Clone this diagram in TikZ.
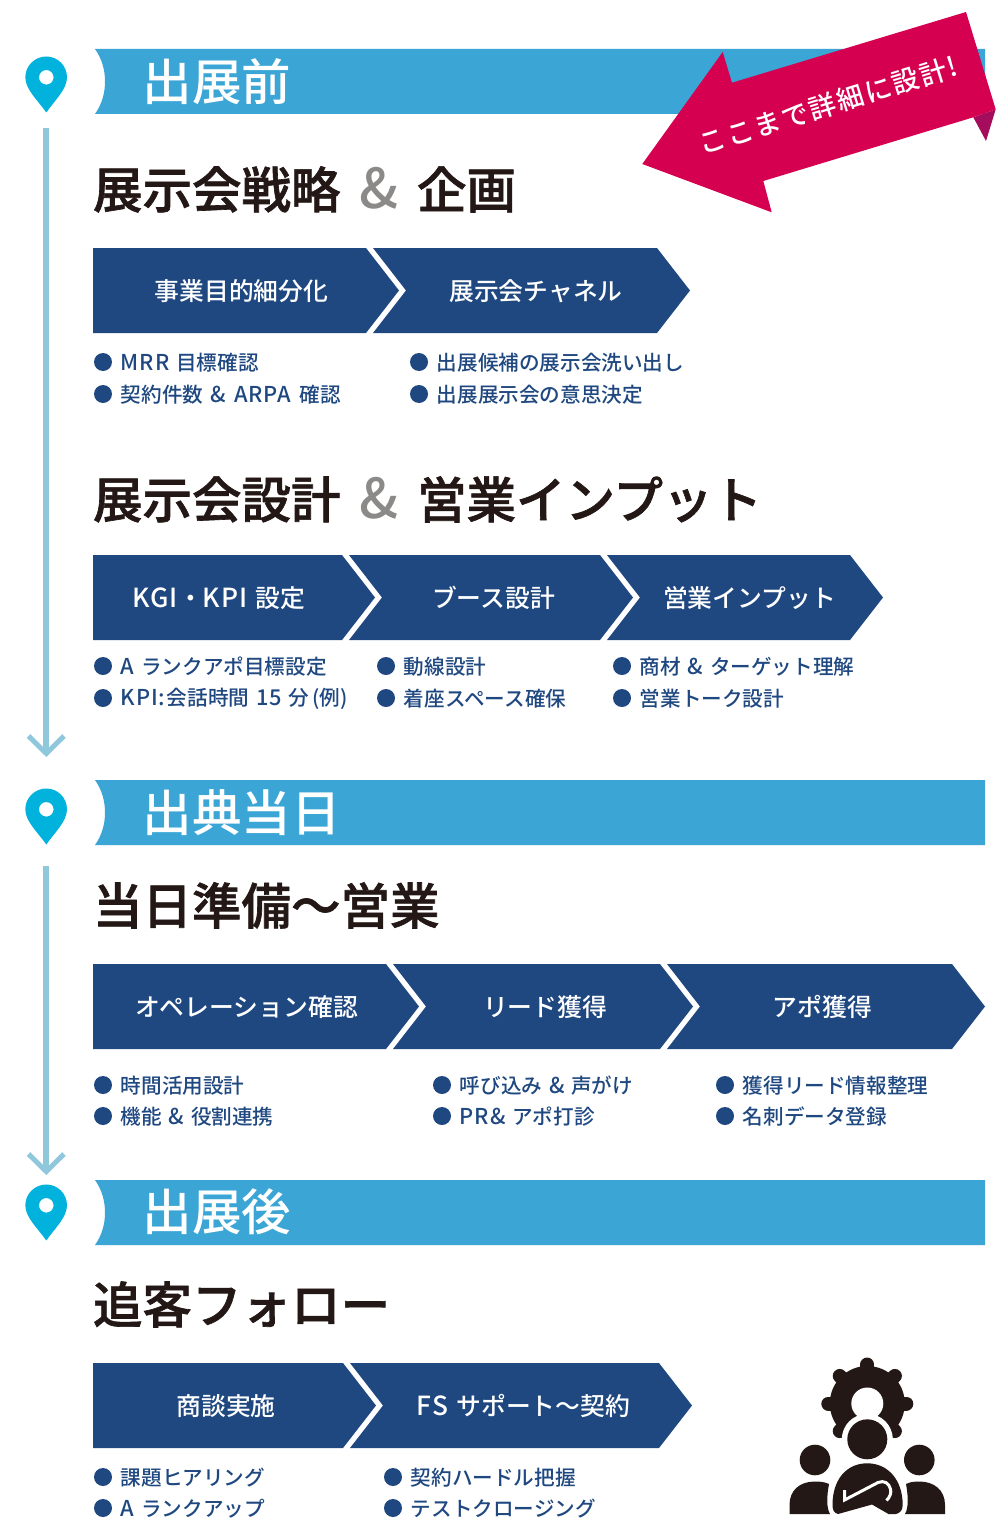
\documentclass[tikz,border=0pt]{standalone}
\usepackage{fontspec}
\setmainfont{Noto Sans CJK JP Medium}
\newfontfamily\headfont[FakeBold=1.3]{Noto Sans CJK JP Medium}
\newfontfamily\latf[LetterSpace=4,Scale=1.06]{Noto Sans CJK JP Medium}
\newfontfamily\ribfont[LetterSpace=7]{Noto Sans CJK JP Medium}
\definecolor{bandblue}{HTML}{3BA6D5}
\definecolor{navy}{HTML}{1F4880}
\definecolor{pinblue}{HTML}{00B2DC}
\definecolor{linkblue}{HTML}{8FC7DC}
\definecolor{pink}{HTML}{D5004F}
\definecolor{fold}{HTML}{A50D5C}
\definecolor{ink}{HTML}{231815}
\definecolor{grayamp}{HTML}{8C8A88}
\newcommand{\fs}[1]{\fontsize{#1pt}{#1pt}\selectfont}
\newcommand{\lat}[1]{{\latf #1}}
\newcommand{\gp}{\hspace{0.33em}}
\tikzset{
  x=1pt,y=-1pt,
  bandtitle/.style={anchor=west,text=white,font=\fs{49.5}},
  heading/.style={anchor=west,text=ink,font=\fs{49.5}\headfont},
  ampmark/.style={text=grayamp,font=\fs{55}},
  chevtext/.style={text=white,font=\fs{24.8}},
  bullettext/.style={anchor=west,text=navy,font=\fs{20.6}},
  dotmark/.style={circle,fill=navy,inner sep=0pt,minimum size=18pt},
  chev/.style={fill=navy},
  link/.style={draw=linkblue,line width=6pt},
  linkhead/.style={draw=linkblue,line width=5pt},
}
\newcommand{\band}[1]{%
  \fill[bandblue] (95,#1) .. controls (102,{#1+10}) and (105,{#1+21}) .. (105,{#1+32.5}) .. controls (105,{#1+44}) and (102,{#1+55}) .. (95,{#1+65}) -- (985,{#1+65}) -- (985,#1) -- cycle;}
\newcommand{\pin}[2]{% name, top y
  \fill[pinblue,even odd rule] (46.3,{#2+56}) .. controls (38,{#2+44}) and (25.3,{#2+33}) .. (25.3,{#2+20.8})
    .. controls (25.3,{#2+9.3}) and (34.8,#2) .. (46.3,#2)
    .. controls (57.8,#2) and (67,{#2+9.3}) .. (67,{#2+20.8})
    .. controls (67,{#2+33}) and (54.6,{#2+44}) .. (46.3,{#2+56}) -- cycle
    (46.3,{#2+20.8}) circle[radius=7.3];
  \coordinate (#1) at (46.3,{#2+28});}
% name, ytop, xleft, xshoulder, xcentre, text
\newcommand{\chv}[6]{%
  \fill[chev] (#3,#2) -- (#4,#2) -- ({#4+33},{#2+42.5}) -- (#4,{#2+85}) -- (#3,{#2+85}) -- ({#3+33},{#2+42.5}) -- cycle;
  \node[chevtext] (#1) at (#5,{#2+42.9}) {#6};}
\newcommand{\chvf}[6]{%
  \fill[chev] (#3,#2) -- (#4,#2) -- ({#4+33},{#2+42.5}) -- (#4,{#2+85}) -- (#3,{#2+85}) -- cycle;
  \node[chevtext] (#1) at (#5,{#2+42.9}) {#6};}
\newcommand{\bul}[4]{% name, x, y, text
  \node[dotmark] (#1d) at (#2,#3) {};
  \node[bullettext] (#1) at ({#2+14.4},{#3+0.4}) {#4};}
\begin{document}
\begin{tikzpicture}
\useasboundingbox (0,0) rectangle (1000,1525);
% bands
\band{49}
\band{780}
\band{1180}
\node[bandtitle] (t1) at (139,82) {出展前};
\node[bandtitle] (t2) at (139,813) {出典当日};
\node[bandtitle] (t3) at (139,1212) {出展後};
% pins and links
\pin{p1}{56.5}
\pin{p2}{788.5}
\pin{p3}{1184.5}
\coordinate (a1s) at (46.3,128);
\coordinate (a1e) at (46.3,753);
\coordinate (a2s) at (46.3,866);
\coordinate (a2e) at (46.3,1172);
\draw[link] (a1s) -- (a1e);
\draw[link] (a2s) -- (a2e);
\draw[linkhead] (28.5,736) -- (46.3,753.5) -- (64,736);
\draw[linkhead] (28.5,1154) -- (46.3,1171.5) -- (64,1154);
% ribbon
\fill[fold] (973.3,117.3) -- (995.7,109.3) -- (986,141) -- cycle;
\fill[pink] (966,12) -- (995.7,109.3) -- (973.3,117.3) -- (763.3,181) -- (771.7,212.3) -- (642.3,164) -- (722.7,52) -- (732,82.7) -- cycle;
\node[text=white,rotate=17.2,font=\fs{27}\ribfont] (r1) at (828,105) {ここまで詳細に設計!};
% headings
\node[heading] (h1) at (89.5,189.4) {展示会戦略};
\node[ampmark] (h1a) at (379,188) {\&};
\node[heading] (h1b) at (413.5,189.4) {企画};
\node[heading] (h2) at (89.5,499.4) {展示会設計};
\node[ampmark] (h2a) at (379,498) {\&};
\node[heading] (h2b) at (413.5,499.4) {営業インプット};
\node[heading] (h3) at (89.5,905.4) {当日準備〜営業};
\node[heading] (h4) at (89.5,1304.4) {追客フォロー};
% row 1
\chvf{c11}{248}{93}{366}{241.5}{事業目的細分化}
\chv{c12}{248}{373}{657}{536}{展示会チャネル}
\bul{b11}{103}{362}{\lat{MRR}\gp 目標確認}
\bul{b12}{103}{394}{契約件数\gp\lat{\&}\hspace{0.42em}\lat{ARPA}\hspace{0.42em}確認}
\bul{b13}{419}{362}{出展候補の展示会洗い出し}
\bul{b14}{419}{394}{出展展示会の意思決定}
% row 2
\chvf{c21}{555}{93}{342}{219}{\lat{KGI}・\lat{KPI}\gp 設定}
\chv{c22}{555}{349}{600}{493.5}{ブース設計}
\chv{c23}{555}{607}{850}{749.5}{営業インプット}
\bul{b21}{103}{666}{\lat{A}\gp ランクアポ目標設定}
\bul{b22}{103}{698}{\lat{KPI:}\hspace{1.5pt}会話時間\gp\lat{15}\gp 分\hspace{3pt}(例)}
\bul{b23}{386}{666}{動線設計}
\bul{b24}{386}{698}{着座スペース確保}
\bul{b25}{622}{666}{商材\gp\lat{\&}\gp ターゲット理解}
\bul{b26}{622}{698}{営業トーク設計}
% row 3
\chvf{c31}{964}{93}{386}{246.5}{オペレーション確認}
\chv{c32}{964}{393}{660}{545}{リード獲得}
\chv{c33}{964}{667}{952}{822.5}{アポ獲得}
\bul{b31}{103}{1085}{時間活用設計}
\bul{b32}{103}{1116}{機能\gp\lat{\&}\gp 役割連携}
\bul{b33}{442}{1085}{呼び込み\gp\lat{\&}\gp 声がけ}
\bul{b34}{442}{1116}{\lat{PR\&}\gp アポ打診}
\bul{b35}{725}{1085}{獲得リード情報整理}
\bul{b36}{725}{1116}{名刺データ登録}
% row 4
\chvf{c41}{1363}{93}{343}{226}{商談実施}
\chv{c42}{1363}{350}{659}{523.5}{\lat{FS}\gp サポート〜契約}
\bul{b41}{103}{1477}{課題ヒアリング}
\bul{b42}{103}{1508}{\lat{A}\gp ランクアップ}
\bul{b43}{393}{1477}{契約ハードル把握}
\bul{b44}{393}{1508}{テストクロージング}
% icon
\begin{scope}
\foreach \a in {0,45,...,315}{
  \draw[ink,line width=14pt,line cap=round] ({867.3+30*cos(\a)},{1403.5-30*sin(\a)}) -- ({867.3+39*cos(\a)},{1403.5-39*sin(\a)});
}
\fill[ink] (867.3,1403.5) circle[radius=37.5];
\fill[white] (867.3,1403.5) circle[radius=16];
\fill[white] (867.3,1439.3) circle[radius=25.5];
\fill[white] (825,1448) rectangle (910,1470);
\fill[ink] (867.3,1439.3) circle[radius=20];
\fill[ink] (815,1460) circle[radius=15.3];
\fill[ink] (919.3,1460) circle[radius=15.3];
\fill[ink] (789.5,1514) -- (789.5,1505) .. controls (789.5,1490) and (800,1481.5) .. (815,1481.5) .. controls (820,1481.5) and (825,1482) .. (829,1484) .. controls (827,1495) and (826,1507) .. (830,1514) -- cycle;
\fill[ink] (945,1514) -- (945,1505) .. controls (945,1490) and (934,1481.5) .. (919.3,1481.5) .. controls (914,1481.5) and (910,1482) .. (906,1484) .. controls (908,1495) and (909,1507) .. (905,1514) -- cycle;
\fill[ink] (838,1514) .. controls (834,1513) and (832.5,1510) .. (832.5,1505) .. controls (832.5,1480) and (846,1463.3) .. (867.3,1463.3) .. controls (888,1463.3) and (902.7,1480) .. (902.7,1505) .. controls (902.7,1510) and (900,1513) .. (896,1514) -- (888.5,1514) -- (872,1504.5) -- cycle;
\draw[white,line width=3pt,line join=miter] (844.5,1490) -- (844.5,1500) -- (878,1482.5) .. controls (884,1480) and (889,1483) .. (890.5,1489) .. controls (891.5,1493) and (890,1497) .. (886.5,1500.5);
\end{scope}
\end{tikzpicture}
\end{document}
